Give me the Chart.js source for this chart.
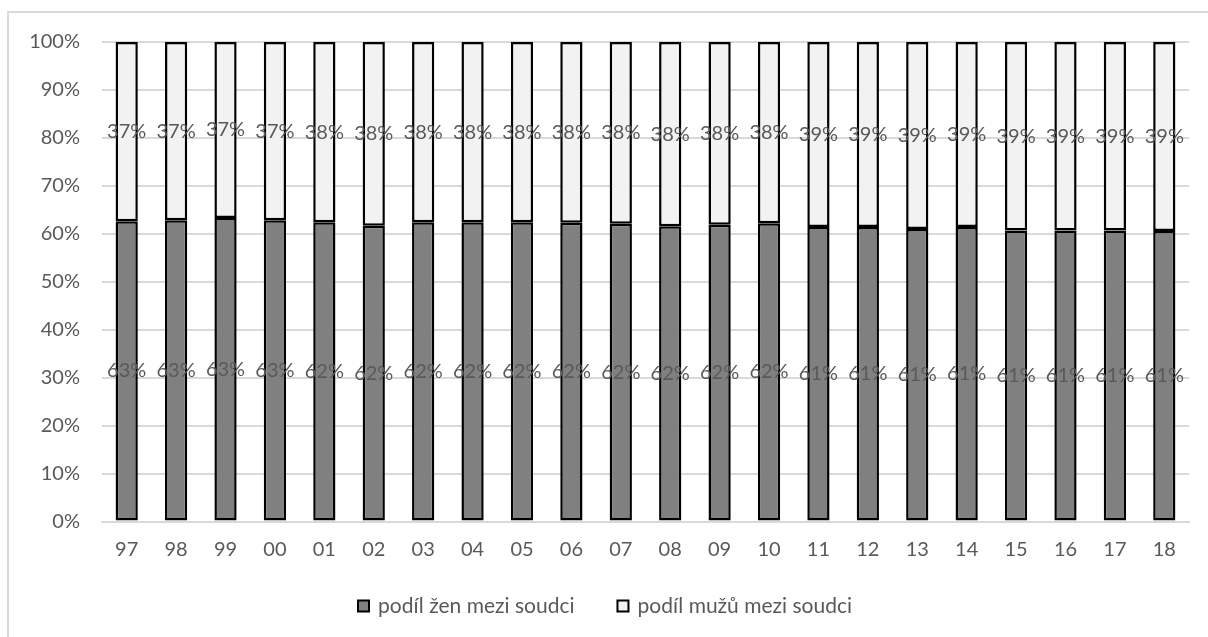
<!DOCTYPE html>
<html>
<head>
<meta charset="utf-8">
<script src="https://cdn.jsdelivr.net/npm/chart.js@4"></script>
<style>
  html, body { margin: 0; padding: 0; background: #fff; }
  #wrap { position: relative; width: 1208px; height: 637px; }
</style>
</head>
<body>
<div id="wrap"><canvas id="chart" width="1208" height="637"></canvas></div>
<script>
const YEARS = ['97','98','99','00','01','02','03','04','05','06','07','08','09','10','11','12','13','14','15','16','17','18'];
const ZENY = [62.6,62.8,63.3,62.8,62.4,61.7,62.4,62.4,62.4,62.3,62.1,61.6,61.9,62.2,61.4,61.4,61.0,61.4,60.7,60.7,60.7,60.6];
const MUZI = [37.4,37.2,36.7,37.2,37.6,38.3,37.6,37.6,37.6,37.7,37.9,38.4,38.1,37.8,38.6,38.6,39.0,38.6,39.3,39.3,39.3,39.4];
const LABELS = ['podíl žen mezi soudci', 'podíl mužů mezi soudci'];
const Y_TICKS = [0,10,20,30,40,50,60,70,80,90,100];

const TEXT = '#595959';
const GRID = '#d9d9d9';
const FONT = 'Lato, "Open Sans", sans-serif';

// white background + outer frame lines (left and top only visible)
const framePlugin = {
  id: 'frame',
  beforeDraw(chart) {
    const ctx = chart.ctx;
    ctx.save();
    ctx.fillStyle = '#fff';
    ctx.fillRect(0, 0, chart.width, chart.height);
    ctx.strokeStyle = GRID;
    ctx.lineWidth = 2;
    ctx.beginPath();
    ctx.moveTo(8, chart.height);
    ctx.lineTo(8, 12);
    ctx.lineTo(chart.width, 12);
    ctx.stroke();
    ctx.restore();
  }
};

// percentage labels in the middle of each segment
const labelPlugin = {
  id: 'segLabels',
  afterDatasetsDraw(chart) {
    const ctx = chart.ctx;
    ctx.save();
    ctx.font = '20px ' + FONT;
    ctx.fillStyle = TEXT;
    ctx.textAlign = 'center';
    ctx.textBaseline = 'middle';
    chart.data.datasets.forEach((ds, i) => {
      chart.getDatasetMeta(i).data.forEach((bar, j) => {
        ctx.fillText(Math.round(ds.data[j]) + '%', bar.x, (bar.y + bar.base) / 2);
      });
    });
    ctx.restore();
  }
};

// legend drawn by hand, Excel-style spacing
const legendPlugin = {
  id: 'bottomLegend',
  afterDraw(chart) {
    const ctx = chart.ctx;
    const box = 11, gap = 9, between = 43, y = 606;
    ctx.save();
    ctx.font = '21px ' + FONT;
    ctx.textBaseline = 'middle';
    const items = chart.data.datasets.map(ds => ({ ds, w: ctx.measureText(ds.label).width }));
    const total = items.reduce((s, it) => s + box + gap + it.w, 0) + between * (items.length - 1);
    let x = 605 - total / 2;
    items.forEach(it => {
      ctx.fillStyle = it.ds.backgroundColor;
      ctx.fillRect(x, y - box / 2, box, box);
      ctx.strokeStyle = '#000';
      ctx.lineWidth = 2;
      ctx.strokeRect(x, y - box / 2, box, box);
      ctx.fillStyle = TEXT;
      ctx.fillText(it.ds.label, x + box + gap, y);
      x += box + gap + it.w + between;
    });
    ctx.restore();
  }
};

new Chart(document.getElementById('chart'), {
  type: 'bar',
  data: {
    labels: YEARS,
    datasets: [
      { label: LABELS[0], data: ZENY, backgroundColor: '#808080', borderColor: '#000', borderWidth: 2.5, borderSkipped: false },
      { label: LABELS[1], data: MUZI, backgroundColor: '#f2f2f2', borderColor: '#000', borderWidth: 2.5, borderSkipped: false },
    ]
  },
  options: {
    responsive: false,
    animation: false,
    datasets: { bar: { barPercentage: 0.45, categoryPercentage: 1 } },
    layout: { padding: { top: 42, right: 19, bottom: 53.5, left: 0 } },
    plugins: {
      tooltip: { enabled: false },
      legend: { display: false }
    },
    scales: {
      x: {
        stacked: true,
        grid: { display: false },
        border: { color: GRID, width: 2 },
        ticks: { color: TEXT, font: { family: FONT, size: 20 }, padding: 8 },
        afterFit: s => { s.height = 62; }
      },
      y: {
        stacked: true,
        min: 0, max: 100,
        afterBuildTicks: s => { s.ticks = Y_TICKS.map(v => ({ value: v })); },
        grid: { color: GRID, lineWidth: 2, drawTicks: false },
        border: { display: false },
        ticks: { color: TEXT, font: { family: FONT, size: 20 }, padding: 22, callback: v => v + '%' },
        afterFit: s => { s.width = 102; }
      }
    }
  },
  plugins: [framePlugin, labelPlugin, legendPlugin]
});
</script>
</body>
</html>
